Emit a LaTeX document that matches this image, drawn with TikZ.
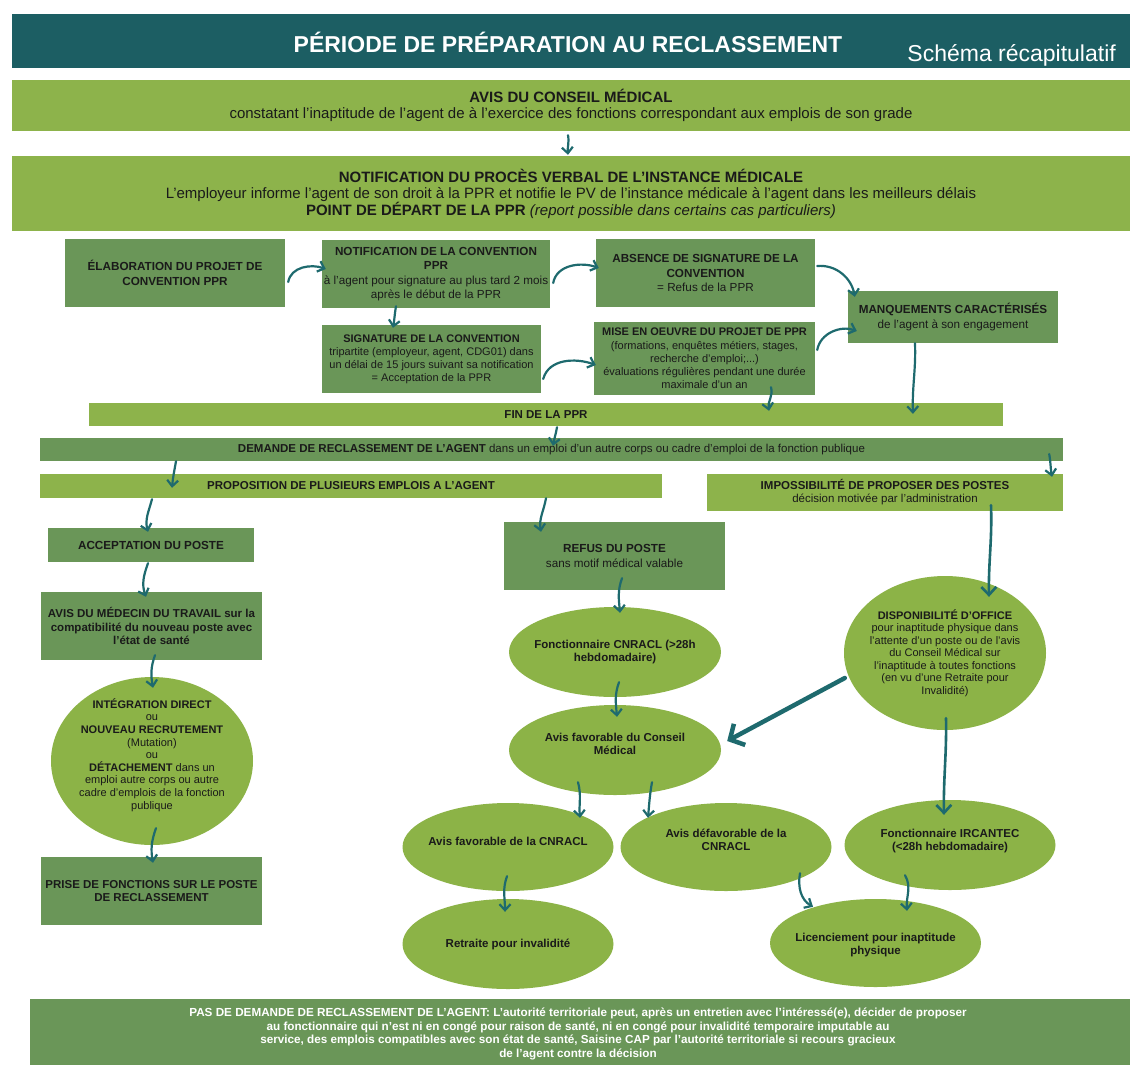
\documentclass[tikz,border=0pt]{standalone}
\usepackage{fontspec}
\setmainfont{Liberation Sans}
\usetikzlibrary{shapes.geometric,arrows.meta,calc}
\definecolor{headc}{HTML}{1C5E63}
\definecolor{lgreen}{HTML}{8DB34B}
\definecolor{mgreen}{HTML}{6A9658}
\definecolor{egreen}{HTML}{8CB347}
\definecolor{arrowc}{HTML}{1E6A6E}
\definecolor{txt}{HTML}{1A1A1A}
\begin{document}
\begin{tikzpicture}[x=1pt,y=1pt,
  bar/.style={rectangle, fill=lgreen, inner sep=0pt, align=center, text=txt, font=\fontsize{15}{16.5}\selectfont},
  sbar/.style={rectangle, fill=lgreen, inner sep=0pt, align=center, text=txt, font=\fontsize{11.5}{13}\selectfont},
  box/.style={rectangle, fill=mgreen, inner sep=0pt, align=center, text=txt, font=\fontsize{11.7}{14.5}\selectfont},
  elli/.style={ellipse, fill=egreen, inner sep=0pt},
  etxt/.style={inner sep=0pt, align=center, text=txt, font=\bfseries\fontsize{11.5}{13}\selectfont},
  arr/.style={draw=arrowc, line width=2.2pt, line cap=round, -{Straight Barb[length=6pt,width=11pt]}},
  marr/.style={draw=arrowc, line width=2.6pt, line cap=round, -{Straight Barb[length=8pt,width=15pt]}},
  bigarr/.style={draw=arrowc, line width=4.5pt, line cap=round, -{Straight Barb[length=11pt,width=24pt]}}
]
\useasboundingbox (0,0) rectangle (1145,-1080);
\fill[white] (0,0) rectangle (1145,-1080);

% header
\node[rectangle, fill=headc, minimum width=1118pt, minimum height=54pt, inner sep=0pt] (header) at (571,-41) {};
\node[font=\bfseries\fontsize{23}{26}\selectfont, text=white, inner sep=0pt] (title) at (568,-42) {PÉRIODE DE PRÉPARATION AU RECLASSEMENT};
\node[font=\fontsize{23}{26}\selectfont, text=white, anchor=base east, inner sep=0pt] (subtitle) at (1116,-61) {Schéma récapitulatif};

% top bars
\node[bar, minimum width=1118pt, minimum height=51pt] (avis) at (571,-105.5) {\textbf{AVIS DU CONSEIL MÉDICAL}\\constatant l’inaptitude de l’agent de à l’exercice des fonctions correspondant aux emplois de son grade};
\node[bar, minimum width=1118pt, minimum height=75pt] (notif) at (571,-193.5) {\textbf{NOTIFICATION DU PROCÈS VERBAL DE L’INSTANCE MÉDICALE}\\L’employeur informe l’agent de son droit à la PPR et notifie le PV de l’instance médicale à l’agent dans les meilleurs délais\\\textbf{POINT DE DÉPART DE LA PPR} \textit{(report possible dans certains cas particuliers)}};

% PPR boxes
\node[box, minimum width=220pt, minimum height=68pt] (elab) at (175,-273) {\textbf{ÉLABORATION DU PROJET DE}\\\textbf{CONVENTION PPR}};
\node[box, minimum width=228pt, minimum height=68pt] (notconv) at (436,-274) {\textbf{NOTIFICATION DE LA CONVENTION}\\\textbf{PPR}\\à l’agent pour signature au plus tard 2 mois\\après le début de la PPR};
\node[box, minimum width=219pt, minimum height=68pt] (absence) at (705.5,-273) {\textbf{ABSENCE DE SIGNATURE DE LA}\\\textbf{CONVENTION}\\= Refus de la PPR};
\node[box, minimum width=210pt, minimum height=52pt] (manq) at (953,-317) {\textbf{MANQUEMENTS CARACTÉRISÉS}\\de l’agent à son engagement};
\node[box, minimum width=219pt, minimum height=68pt, font=\fontsize{11}{13}\selectfont] (signature) at (431.5,-359) {\textbf{SIGNATURE DE LA CONVENTION}\\tripartite (employeur, agent, CDG01) dans\\un délai de 15 jours suivant sa notification\\= Acceptation de la PPR};
\node[box, minimum width=221pt, minimum height=73pt, font=\fontsize{11}{13.2}\selectfont] (mise) at (704.5,-358.5) {\textbf{MISE EN OEUVRE DU PROJET DE PPR}\\(formations, enquêtes métiers, stages,\\recherche d’emploi;...)\\évaluations régulières pendant une durée\\maximale d’un an};

% middle bars
\node[sbar, minimum width=914pt, minimum height=23pt] (fin) at (546,-414.5) {\textbf{FIN DE LA PPR}};
\node[sbar, fill=mgreen, minimum width=1023pt, minimum height=23pt] (demande) at (551.5,-449.5) {\textbf{DEMANDE DE RECLASSEMENT DE L’AGENT} dans un emploi d’un autre corps ou cadre d’emploi de la fonction publique};
\node[sbar, minimum width=622pt, minimum height=24pt] (propo) at (351,-486) {\textbf{PROPOSITION DE PLUSIEURS EMPLOIS A L’AGENT}};
\node[sbar, minimum width=356pt, minimum height=37pt] (impos) at (885,-492.5) {\textbf{IMPOSSIBILITÉ DE PROPOSER DES POSTES}\\décision motivée par l’administration};

% left column
\node[box, minimum width=206pt, minimum height=34pt] (accept) at (151,-545) {\textbf{ACCEPTATION DU POSTE}};
\node[box, minimum width=221pt, minimum height=68pt, font=\bfseries\fontsize{11.5}{13.5}\selectfont] (medecin) at (151.5,-626) {AVIS DU MÉDECIN DU TRAVAIL sur la\\compatibilité du nouveau poste avec\\l’état de santé};
\node[elli, minimum width=202pt, minimum height=168pt] (integ) at (152,-761) {};
\node[etxt, font=\fontsize{11}{12.6}\selectfont] (integ-t) at (152,-755) {\textbf{INTÉGRATION DIRECT}\\ou\\\textbf{NOUVEAU RECRUTEMENT}\\(Mutation)\\ou\\\textbf{DÉTACHEMENT} dans un\\emploi autre corps ou autre\\cadre d’emplois de la fonction\\publique};
\node[box, minimum width=221pt, minimum height=68pt, font=\bfseries\fontsize{11.5}{13.5}\selectfont] (prise) at (151.5,-891) {PRISE DE FONCTIONS SUR LE POSTE\\DE RECLASSEMENT};

% middle column
\node[box, minimum width=221pt, minimum height=68pt] (refus) at (614.5,-556) {\textbf{REFUS DU POSTE}\\sans motif médical valable};
\node[elli, minimum width=212pt, minimum height=90pt] (cnracl) at (615,-652) {};
\node[etxt] (cnracl-t) at (615,-652) {Fonctionnaire CNRACL (>28h\\hebdomadaire)};
\node[elli, minimum width=212pt, minimum height=90pt] (avisCM) at (615,-750) {};
\node[etxt] (avisCM-t) at (615,-744) {Avis favorable du Conseil\\Médical};
\node[elli, minimum width=211pt, minimum height=88pt] (favCN) at (508,-847) {};
\node[etxt] (favCN-t) at (508,-841) {Avis favorable de la CNRACL};
\node[elli, minimum width=211pt, minimum height=88pt] (defav) at (726,-847) {};
\node[etxt] (defav-t) at (726,-840) {Avis défavorable de la\\CNRACL};
\node[elli, minimum width=211pt, minimum height=90pt] (retraite) at (508,-944) {};
\node[etxt] (retraite-t) at (508,-944) {Retraite pour invalidité};

% right column
\node[elli, minimum width=202pt, minimum height=154pt] (disp) at (945,-653) {};
\node[etxt, font=\fontsize{11}{12.5}\selectfont] (disp-t) at (945,-653) {\textbf{DISPONIBILITÉ D’OFFICE}\\pour inaptitude physique dans\\l’attente d’un poste ou de l’avis\\du Conseil Médical sur\\l’inaptitude à toutes fonctions\\(en vu d’une Retraite pour\\Invalidité)};
\node[elli, minimum width=211pt, minimum height=90pt] (ircantec) at (950,-845) {};
\node[etxt] (ircantec-t) at (950,-841) {Fonctionnaire IRCANTEC\\(<28h hebdomadaire)};
\node[elli, minimum width=211pt, minimum height=88pt] (licen) at (875.5,-943) {};
\node[etxt] (licen-t) at (875.5,-945) {Licenciement pour inaptitude\\physique};

% bottom bar
\node[rectangle, fill=mgreen, minimum width=1100pt, minimum height=66pt, inner sep=0pt] (bottom) at (580,-1032) {};
\node[inner sep=0pt, align=center, text=white, font=\bfseries\fontsize{11.7}{13.7}\selectfont] (bottom-t) at (578,-1034) {PAS DE DEMANDE DE RECLASSEMENT DE L’AGENT: L’autorité territoriale peut, après un entretien avec l’intéressé(e), décider de proposer\\au fonctionnaire qui n’est ni en congé pour raison de santé, ni en congé pour invalidité temporaire imputable au\\service, des emplois compatibles avec son état de santé, Saisine CAP par l’autorité territoriale si recours gracieux\\de l’agent contre la décision};

% connectors
\draw[arr] ($(avis.south)+(-3,-4)$) to[out=-80,in=95] ($(notif.north)+(-3,1)$);
\draw[arr] ($(elab.east)+(3,-9)$) to[out=80,in=160] ($(notconv.west)+(4,5)$);
\draw[arr] ($(notconv.east)+(3,-9)$) to[out=80,in=160] ($(absence.west)+(3,5)$);
\draw[arr] ($(notconv.south)+(-40,2)$) to[out=-100,in=80] ($(signature.north)+(-38.5,-3)$);
\draw[arr] ($(signature.east)+(2,-20)$) to[out=75,in=160] ($(mise.west)+(2,-6.5)$);
\draw[arr] ($(absence.east)+(2,7)$) to[out=5,in=100] ($(manq.north west)+(7,-6)$);
\draw[arr] ($(mise.east)+(2,8.5)$) to[out=80,in=160] ($(manq.west)+(9,-14)$);
\draw[arr] ($(mise.south)+(66.5,8)$) to[out=-75,in=100] ($(fin.north)+(223,-8)$);
\draw[arr] ($(manq.south)+(-38,0)$) to[out=-88,in=92] ($(fin.north)+(367,-11)$);
\draw[arr] ($(fin.south)+(11,-1)$) to[out=-100,in=80] ($(demande.north)+(1.5,-8)$);
\draw[arr] ($(demande.south)+(-375.5,0)$) to[out=-100,in=85] ($(propo.north)+(-179,-14)$);
\draw[arr] ($(demande.east)+(-14,-4.5)$) to[out=-80,in=100] ($(impos.north)+(167,-3)$);
\draw[arr] ($(propo.south)+(-199,-1)$) to[out=-105,in=105] ($(accept.north)+(-3,-4)$);
\draw[arr] ($(propo.south)+(195,0)$) to[out=-100,in=100] ($(refus.north)+(-73.5,-10)$);
\draw[arr] ($(accept.south)+(-3,-1)$) to[out=-110,in=110] ($(medecin.north)+(-5.5,-5)$);
\draw[arr] ($(medecin.south)+(3.5,5)$) to[out=-110,in=100] ($(integ.north)+(1,-11)$);
\draw[arr] ($(integ.south)+(4,17)$) to[out=-110,in=100] ($(prise.north)+(1.5,-6)$);
\draw[arr] ($(refus.south)+(7.5,12)$) to[out=-110,in=95] ($(cnracl.north)+(5,-6)$);
\draw[arr] ($(cnracl.south)+(4,15)$) to[out=-110,in=95] ($(avisCM.north)+(2,-12)$);
\draw[marr] ($(impos.south)+(106,6)$) to[out=-88,in=91] ($(disp.north)+(44,-21)$);
\draw[bigarr] ($(disp.west)+(1,-25)$) -- ($(avisCM.east)+(6,9)$);
\draw[marr] ($(disp.south)+(1,12)$) to[out=-89,in=91] ($(ircantec.north)+(-6,-15)$);
\draw[arr] ($(avisCM.south)+(-37,13)$) to[out=-75,in=95] ($(favCN.north)+(72,-15)$);
\draw[arr] ($(avisCM.south)+(37,13)$) to[out=-100,in=85] ($(defav.north)+(-78,-15)$);
\draw[arr] ($(favCN.south)+(-1,15)$) to[out=-110,in=90] ($(retraite.north)+(-3,-13)$);
\draw[arr] ($(defav.south)+(74,18)$) to[out=-100,in=150] ($(licen.north)+(-62.5,-8)$);
\draw[arr] ($(ircantec.south)+(-45,15)$) to[out=-60,in=95] ($(licen.north)+(31.5,-12)$);
\end{tikzpicture}
\end{document}
